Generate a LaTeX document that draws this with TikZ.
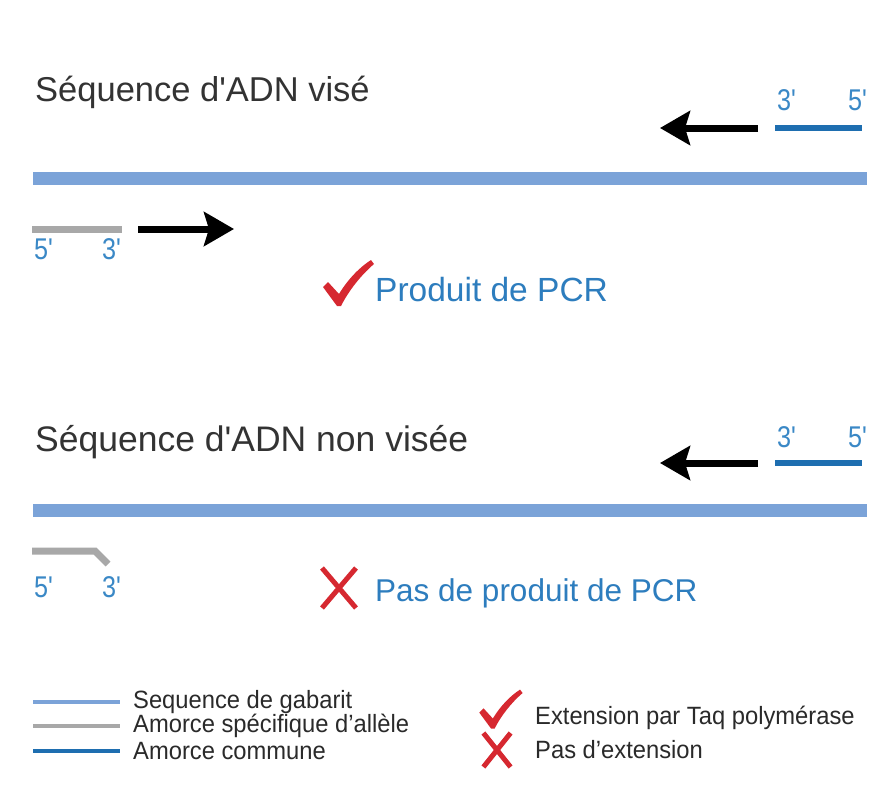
\documentclass[tikz,border=0pt]{standalone}
\usepackage{fontspec}
\setmainfont{Liberation Sans}
\newfontfamily\narrowfont[FakeStretch=0.84]{Liberation Sans}
\newfontfamily\legfont[FakeStretch=0.95]{Liberation Sans}
\usetikzlibrary{arrows.meta}
\definecolor{tmpl}{HTML}{7BA3D8}
\definecolor{grayp}{HTML}{A8A8A8}
\definecolor{darkp}{HTML}{1E6EB0}
\definecolor{lblue}{HTML}{3A88C6}
\definecolor{msgblue}{HTML}{2D7DBE}
\definecolor{redm}{HTML}{D62830}
\definecolor{titlec}{HTML}{333333}
\definecolor{legc}{HTML}{2A2A2A}
\tikzset{
  template/.style={line width=13pt,tmpl},
  allele/.style={line width=7pt,grayp},
  common/.style={line width=6pt,darkp},
  bigarrow/.style={line width=7pt,black,-{Stealth[length=30pt,width=34pt,inset=5pt]}},
  titletext/.style={anchor=base west,inner sep=0pt,text=titlec,font=\fontsize{34.5}{38}\selectfont},
  endlabel/.style={anchor=base west,inner sep=0pt,text=lblue,font=\narrowfont\fontsize{30}{32}\selectfont},
  msgtext/.style={anchor=base west,inner sep=0pt,text=msgblue,font=\fontsize{32.5}{36}\selectfont},
  legtext/.style={anchor=west,inner sep=0pt,text=legc,font=\legfont\fontsize{25}{27}\selectfont},
  legline/.style={line width=4pt},
  checkmark/.pic={\fill[redm] (-15,-17) -- (-10,-22) -- (1,-10) .. controls (10,-25) and (22,-37) .. (33,-44) -- (36,-40) .. controls (22,-28) and (10,-12) .. (3,2) -- (-1,2) -- cycle;},
  crossmark/.pic={\draw[redm,line width=5pt] (-17,-20) -- (17,20) (17,-20) -- (-17,20);}
}
\begin{document}
\begin{tikzpicture}[x=1pt,y=-1pt]
\useasboundingbox[fill=white] (0,0) rectangle (879,801);

% ---------- Panel 1 ----------
\node[titletext] (t1) at (35,101) {Séquence d\textquotesingle ADN visé};
\node[endlabel] (r3a) at (777,110) {3\textquotesingle};
\node[endlabel] (r5a) at (848,110) {5\textquotesingle};
\coordinate (ca1) at (775,128);
\coordinate (ca2) at (862,128);
\draw[common] (ca1) -- (ca2);
\coordinate (la1) at (758,128);
\coordinate (la2) at (660,128);
\draw[bigarrow] (la1) -- (la2);
\coordinate (tp1) at (33,178);
\coordinate (tp2) at (867,178);
\draw[template] (tp1) -- (tp2);
\coordinate (ga1) at (32,229);
\coordinate (ga2) at (122,229);
\draw[allele] (ga1) -- (ga2);
\node[endlabel] (l5a) at (34,259) {5\textquotesingle};
\node[endlabel] (l3a) at (102,259) {3\textquotesingle};
\coordinate (ra1) at (138,229);
\coordinate (ra2) at (234,229);
\draw[bigarrow] (ra1) -- (ra2);
\pic at (338,304) {checkmark};
\node[msgtext,font=\fontsize{33.5}{36}\selectfont] (m1) at (375,301) {Produit de PCR};

% ---------- Panel 2 ----------
\node[titletext,font=\fontsize{35.5}{38}\selectfont] (t2) at (35,451) {Séquence d\textquotesingle ADN non visée};
\node[endlabel] (r3b) at (777,447) {3\textquotesingle};
\node[endlabel] (r5b) at (848,447) {5\textquotesingle};
\coordinate (cb1) at (775,463);
\coordinate (cb2) at (862,463);
\draw[common] (cb1) -- (cb2);
\coordinate (lb1) at (758,463);
\coordinate (lb2) at (660,463);
\draw[bigarrow] (lb1) -- (lb2);
\coordinate (tq1) at (33,510);
\coordinate (tq2) at (867,510);
\draw[template] (tq1) -- (tq2);
\coordinate (gb1) at (32,551);
\coordinate (gb2) at (95,551);
\coordinate (gb3) at (108,564);
\draw[allele,line join=miter] (gb1) -- (gb2) -- (gb3);
\node[endlabel] (l5b) at (34,597) {5\textquotesingle};
\node[endlabel] (l3b) at (102,597) {3\textquotesingle};
\pic at (339,588) {crossmark};
\node[msgtext,font=\fontsize{31.5}{36}\selectfont] (m2) at (375,601) {Pas de produit de PCR};

% ---------- Legend ----------
\coordinate (k1a) at (33,702); \coordinate (k1b) at (120,702);
\draw[legline,tmpl] (k1a) -- (k1b);
\node[legtext] (k1) at (133,702) {Sequence de gabarit};
\coordinate (k2a) at (33,726); \coordinate (k2b) at (120,726);
\draw[legline,grayp] (k2a) -- (k2b);
\node[legtext] (k2) at (133,726) {Amorce spécifique d’allèle};
\coordinate (k3a) at (33,751); \coordinate (k3b) at (120,751);
\draw[legline,darkp] (k3a) -- (k3b);
\node[legtext] (k3) at (133,751) {Amorce commune};
\pic[scale=0.85] at (492,727) {checkmark};
\node[legtext] (k4) at (535,718) {Extension par Taq polymérase};
\pic[xscale=0.8,yscale=0.85] at (497,750) {crossmark};
\node[legtext] (k5) at (535,750) {Pas d’extension};
\end{tikzpicture}
\end{document}
